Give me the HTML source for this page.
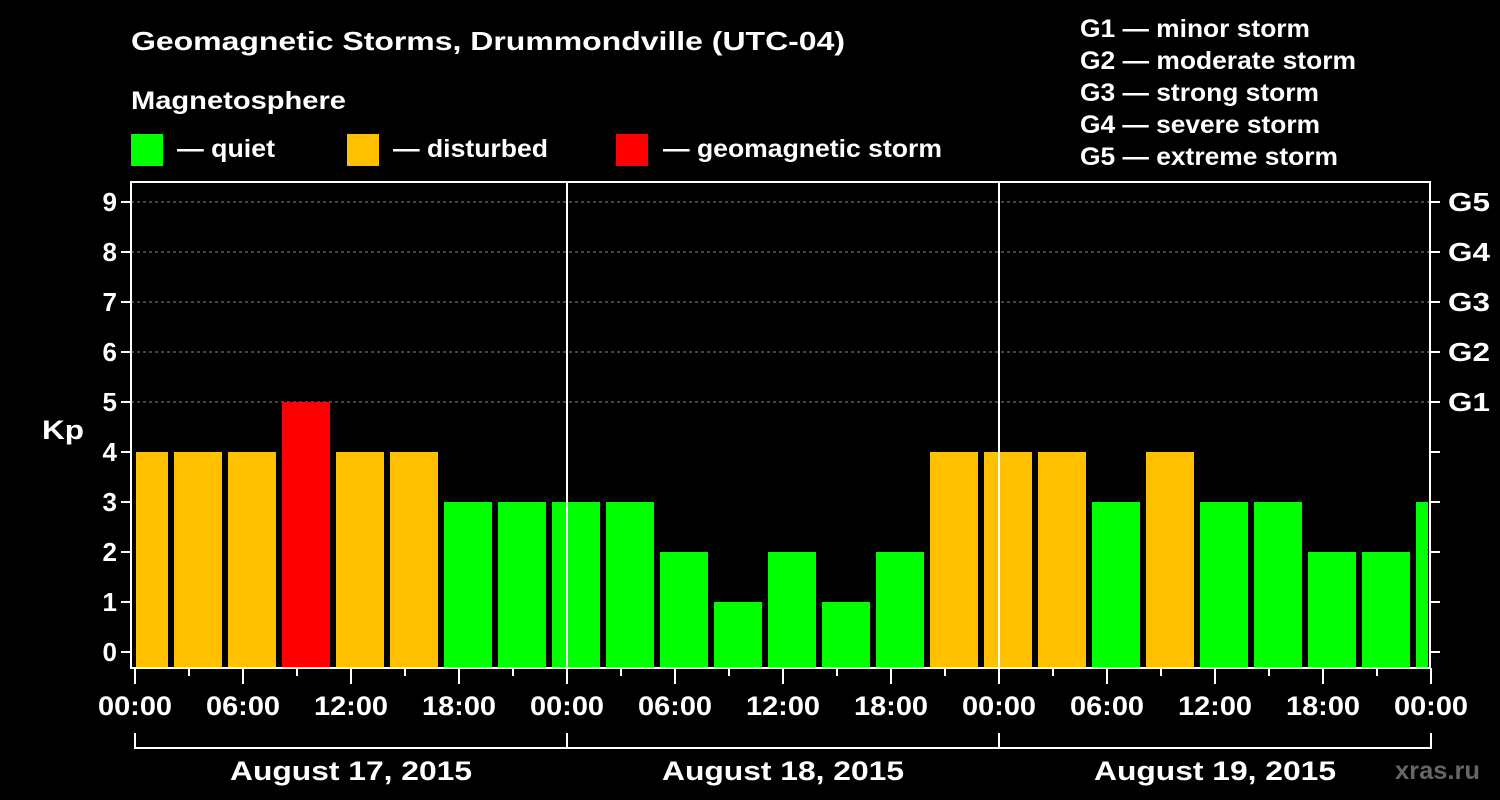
<!DOCTYPE html>
<html><head><meta charset="utf-8"><style>
body{margin:0;background:#000;}
svg{display:block;font-family:"Liberation Sans",sans-serif;font-weight:bold;}
</style></head><body>
<svg id="c" width="1500" height="800">
<rect width="1500" height="800" fill="#000"/>
<text x="131" y="50" fill="#fff" font-size="26" textLength="714" lengthAdjust="spacingAndGlyphs">Geomagnetic Storms, Drummondville (UTC-04)</text>
<text x="131" y="109" fill="#fff" font-size="25" textLength="215" lengthAdjust="spacingAndGlyphs">Magnetosphere</text>
<g><rect x="131" y="134" width="32" height="32" fill="#00ff00"/><text x="177" y="157" fill="#fff" font-size="25" textLength="98" lengthAdjust="spacingAndGlyphs">— quiet</text></g>
<g><rect x="347" y="134" width="32" height="32" fill="#ffc000"/><text x="393" y="157" fill="#fff" font-size="25" textLength="155" lengthAdjust="spacingAndGlyphs">— disturbed</text></g>
<g><rect x="616" y="134" width="32" height="32" fill="#ff0000"/><text x="663" y="157" fill="#fff" font-size="25" textLength="279" lengthAdjust="spacingAndGlyphs">— geomagnetic storm</text></g>
<g fill="#fff" font-size="25" lengthAdjust="spacingAndGlyphs">
<text x="1080" y="37" textLength="230" lengthAdjust="spacingAndGlyphs">G1 — minor storm</text>
<text x="1080" y="69" textLength="276" lengthAdjust="spacingAndGlyphs">G2 — moderate storm</text>
<text x="1080" y="101" textLength="239" lengthAdjust="spacingAndGlyphs">G3 — strong storm</text>
<text x="1080" y="133" textLength="240" lengthAdjust="spacingAndGlyphs">G4 — severe storm</text>
<text x="1080" y="165" textLength="258" lengthAdjust="spacingAndGlyphs">G5 — extreme storm</text>
</g>
<text x="42" y="439" fill="#fff" font-size="27" textLength="42" lengthAdjust="spacingAndGlyphs">Kp</text>
<text x="1395" y="779" fill="#666" font-size="25" textLength="85" lengthAdjust="spacingAndGlyphs">xras.ru</text>
<g id="plot"></g>
</svg>
<script>
const kpValues=[4,4,4,5,4,4,3,3,3,3,2,1,2,1,2,4,4,4,3,4,3,3,2,2,3];
const yTicks=[0,1,2,3,4,5,6,7,8,9];
const gLabels=["G1","G2","G3","G4","G5"];
const timeLabels=["00:00","06:00","12:00","18:00"];
const dayLabels=["August 17, 2015","August 18, 2015","August 19, 2015"];
const NS="http://www.w3.org/2000/svg";
const g=document.getElementById('plot');
const L=131,R=1430,T=182,B=668,X0=135,PXH=18;
const xs=h=>X0+h*PXH;
const ys=v=>652-v*50;
function mk(t,a,p){const e=document.createElementNS(NS,t);for(const k in a)e.setAttribute(k,a[k]);(p||g).appendChild(e);return e;}
const clip=mk('clipPath',{id:'cp'});mk('rect',{x:L+5,y:T,width:R-L-7,height:B-T},clip);
yTicks.forEach(v=>{if(v>=5){const l=mk('line',{x1:L,x2:R,y1:ys(v),y2:ys(v),stroke:'#888','stroke-dasharray':'3,3','stroke-width':1});

}});
const bg=mk('g',{'clip-path':'url(#cp)'});
kpValues.forEach((v,i)=>{const c=i*3+0.5;const col=v>=5?'#ff0000':(v>=4?'#ffc000':'#00ff00');
const r=mk('rect',{x:xs(c)-24,y:ys(v),width:48,height:B-ys(v),fill:col},bg);

});
[1,2].forEach(d=>{const l=mk('line',{x1:xs(d*24),x2:xs(d*24),y1:T,y2:B,stroke:'#fff','stroke-width':2});

});
const f=mk('rect',{x:L,y:T,width:R-L,height:B-T,fill:'none',stroke:'#fff','stroke-width':2});


yTicks.forEach(v=>{mk('line',{x1:L-10,x2:L,y1:ys(v),y2:ys(v),stroke:'#fff','stroke-width':2});
mk('line',{x1:R,x2:R+10,y1:ys(v),y2:ys(v),stroke:'#fff','stroke-width':2});
const t=mk('text',{x:L-14,y:ys(v)+9,fill:'#fff','font-size':26,'text-anchor':'end'});t.textContent=v;

});
gLabels.forEach((s,i)=>{const t=mk('text',{x:R+18,y:ys(5+i)+9,fill:'#fff','font-size':26,textLength:42,lengthAdjust:'spacingAndGlyphs'});t.textContent=s;

});
for(let h=0;h<=72;h+=3){const major=h%6===0;mk('line',{x1:xs(h),x2:xs(h),y1:B,y2:B+(major?16:8),stroke:'#fff','stroke-width':2});
if(major){const t=mk('text',{x:xs(h)-37,y:B+47,fill:'#fff','font-size':27,textLength:74,lengthAdjust:'spacingAndGlyphs'});t.textContent=timeLabels[(h/6)%4];

}}
dayLabels.forEach((s,d)=>{const a=xs(d*24),b=xs(d*24+24);
mk('path',{d:`M${a},733V748H${b}V733`,fill:'none',stroke:'#fff','stroke-width':2});
const t=mk('text',{x:(a+b)/2-121,y:780,fill:'#fff','font-size':27,textLength:242,lengthAdjust:'spacingAndGlyphs'});t.textContent=s;

});
</script>
</body></html>
